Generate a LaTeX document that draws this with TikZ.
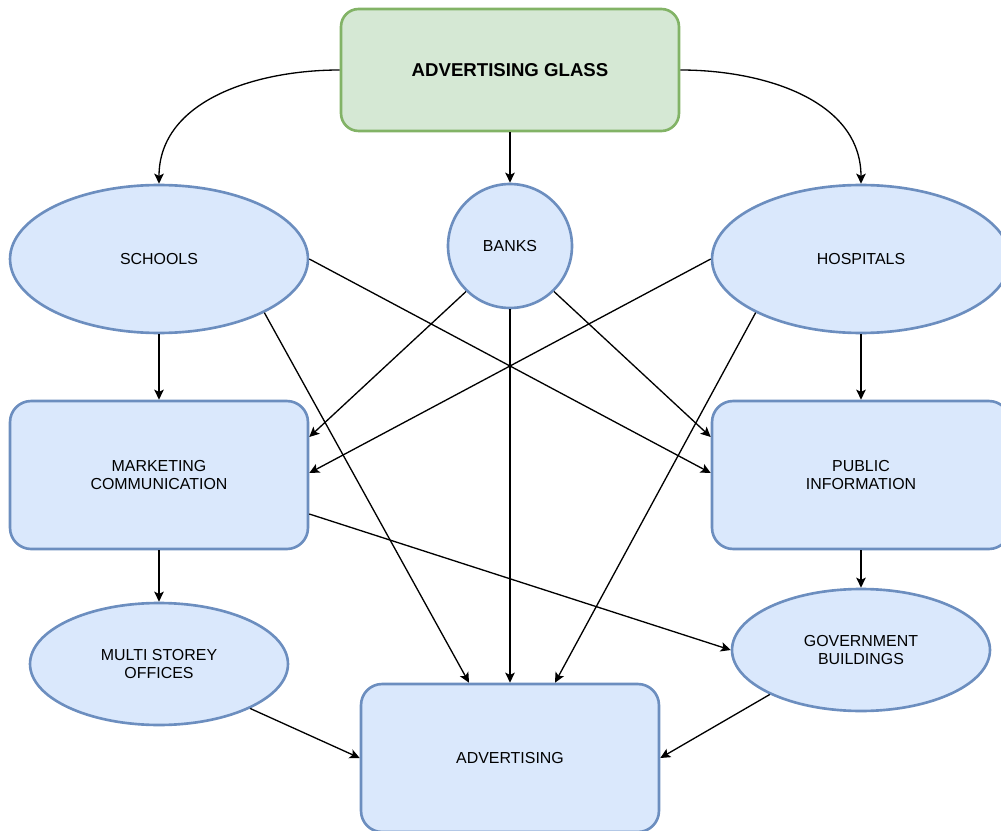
\documentclass[tikz,border=0pt]{standalone}
\usepackage{fontspec}
\setmainfont{Liberation Sans}
\usetikzlibrary{arrows.meta,calc,shapes.geometric}
\definecolor{blueF}{HTML}{DAE8FC}
\definecolor{blueD}{HTML}{6C8EBF}
\definecolor{greenF}{HTML}{D5E8D4}
\definecolor{greenD}{HTML}{82B366}
\begin{document}
\begin{tikzpicture}[x=0.02cm,y=-0.02cm,
  lbl/.style={font=\fontsize{9.07}{10.2}\selectfont,align=center,inner sep=0pt},
  bubble/.style={lbl,ellipse,draw=blueD,fill=blueF,line width=1.5pt},
  box/.style={lbl,rectangle,rounded corners=12pt,draw=blueD,fill=blueF,line width=1.5pt,
    minimum width=5.96cm,minimum height=2.96cm},
  arr/.style={-{Stealth[length=5.7pt,width=5.4pt,inset=1.3pt]},line width=0.75pt}]
\useasboundingbox (0,0) rectangle (1001,831);

% top
\node[rectangle,rounded corners=10pt,draw=greenD,fill=greenF,line width=1.5pt,
  minimum width=6.76cm,minimum height=2.44cm,
  font=\fontsize{10.6}{12}\selectfont\bfseries] (glass) at (510,70) {ADVERTISING GLASS};

% places
\node[bubble,minimum width=5.96cm,minimum height=2.96cm] (schools) at (159,259) {SCHOOLS};
\node[bubble,circle,minimum size=2.48cm] (banks) at (510,246) {BANKS};
\node[bubble,minimum width=5.96cm,minimum height=2.96cm] (hosp) at (861,259) {HOSPITALS};

\node[box] (market) at (159,475) {MARKETING\\COMMUNICATION};
\node[box] (public) at (861,475) {PUBLIC\\INFORMATION};

\node[bubble,minimum width=5.16cm,minimum height=2.44cm] (multi) at (159,664) {MULTI STOREY\\OFFICES};
\node[bubble,minimum width=5.16cm,minimum height=2.44cm] (gov) at (861,650) {GOVERNMENT\\BUILDINGS};

\node[box] (adv) at (510,758) {ADVERTISING};

% connectors
\draw[arr] (glass.west) to[out=180,in=90] (schools.north);
\draw[arr] (glass.east) to[out=0,in=90] (hosp.north);
\foreach \a/\b in {glass.south/banks.north, schools.south/market.north,
  hosp.south/public.north, market.south/multi.north, public.south/gov.north,
  banks.south/adv.north, multi.-26/adv.west, gov.-154/adv.east}
  { \draw[arr] (\a) -- (\b); };

\draw[arr] (schools.east) -- ($(public.west)+(0,-2)$);
\draw[arr] (schools.-27) -- ($(adv.north)+(-41,0)$);
\draw[arr] (banks.-134) -- ($(market.east)+(0,-38)$);
\draw[arr] (banks.-46) -- ($(public.west)+(0,-38)$);
\draw[arr] (hosp.west) -- ($(market.east)+(0,-2)$);
\draw[arr] (hosp.-153) -- ($(adv.north)+(45,0)$);
\draw[arr] ($(market.east)+(0,39)$) -- (gov.west);
\end{tikzpicture}
\end{document}
